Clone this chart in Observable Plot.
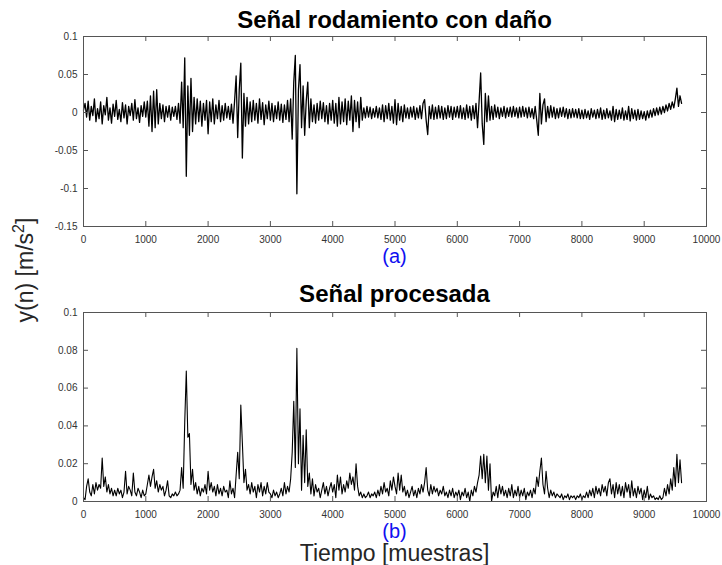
<!DOCTYPE html>
<html>
<head>
<meta charset="utf-8">
<script src="https://cdn.jsdelivr.net/npm/d3@7"></script>
<script src="https://cdn.jsdelivr.net/npm/@observablehq/plot@0.6"></script>
<style>
  html, body { margin: 0; padding: 0; background: #fff; }
  #wrap { position: relative; width: 722px; height: 565px; overflow: hidden; font-family: "Liberation Sans", Arial, sans-serif; }
  .panel { position: absolute; left: 0; }
  .txt { position: absolute; white-space: nowrap; transform: translate(-50%, 0); line-height: 1; }
  .title { font-weight: bold; font-size: 24px; color: #000; }
  .tag { font-size: 20px; color: #1010f0; }
  .axlab { font-size: 23px; color: #262626; line-height: 1; }
</style>
</head>
<body>
<div id="wrap"></div>
<script>
// ---- tick labels ----
const xTicks = [0, 1000, 2000, 3000, 4000, 5000, 6000, 7000, 8000, 9000, 10000];
const yTicksTop = [-0.15, -0.1, -0.05, 0, 0.05, 0.1];
const yTicksBottom = [0, 0.02, 0.04, 0.06, 0.08, 0.1];

// ---- sample spacing of the readings (samples) ----
const sampleStep = 25;

// ---- (a) raw bearing signal, read every 25 samples, in units of 1e-3 m/s^2 ----
const rawSignalMilli = [
  3, 12, -6, 15, -10, 8, -4, 18, -12, 5, -8, 14, -15, 9, -3, 20, -10, 6, -14, 11, -5, 16, -9, 4, -12, 13, -7, 10, -15, 8, -4, 12, -10, 17, -8, 6, -13, 9, -5, 14,
  -6, 15, -18, 22, -25, 28, -20, 30, -15, 12, -8, 10, -12, 8, -6, 9, -10, 7, -5, 8, -9, 12, -14, 40, -20, 72, -84, 35, -30, 45, -25, 20, -15, 18, -12, 15, -18, 12, -10, 16,
  -28, 14, -12, 18, -15, 10, -8, 16, -12, 9, -10, 12, -7, 8, -9, 11, -14, 15, 48, -33, 30, 65, -60, 25, -18, 20, -15, 14, -12, 16, -10, 12, -14, 18, -9, 13, -16, 10, -8, 15,
  -10, 12, -12, 9, -8, 14, -10, 11, -13, 10, -9, 16, -12, 18, -35, 40, 75, -107, 30, 63, -20, 35, -30, 15, 40, -20, 18, -12, 10, -14, 12, -10, 15, -8, 13, -12, 9, -15, 12, -10,
  16, -14, 12, -18, 20, -15, 14, -12, 18, -16, 15, -10, 22, -25, 16, -12, 14, -20, 20, -10, 6, -7, 8, -6, 7, -8, 5, -6, 8, -7, 6, -9, 10, -12, 9, -8, 12, -10, 8, -14,
  17, -16, 12, -10, 8, -12, 10, -7, 6, -8, 7, -6, 8, -9, 6, -7, 9, -8, 12, 17, -10, -29, 8, -8, 10, -9, 7, -8, 9, -7, 8, -9, 6, -8, 9, -6, 8, -9, 7, -6,
  8, -7, 9, -8, 6, -9, 10, -7, 8, -10, 9, -8, 12, -20, 15, 52, -15, -42, 25, -12, 22, -10, 8, -9, 10, -6, 7, -8, 6, -5, 8, -7, 6, -5, 7, -6, 8, -5, 6, -7,
  7, -6, 8, -5, 6, -7, 7, -6, 5, -8, 8, -10, -30, 25, -15, 10, 18, -12, 8, -7, 9, -6, 7, -8, 5, -7, 6, -5, 7, -6, 5, -8, 4, -7, 5, -6, 4, -7, 5, -8,
  3, -8, 4, -7, 2, -9, 5, -6, 3, -8, 4, -7, 6, -9, 3, -8, 5, -7, 2, -10, 8, -12, 4, -9, 3, -8, 6, -10, 2, -9, 8, -11, 5, -8, 3, -10, 4, -9, 2, -8,
  1, -10, 2, -7, 3, -6, 5, -4, 6, -3, 7, -2, 8, 0, 10, 2, 12, 4, 14, 6, 18, 32, 8, 22, 12
];

// ---- (b) processed signal, read every 25 samples, in units of 1e-3 m/s^2 ----
const processedSignalMilli = [
  2, 1, 8, 12, 5, 3, 9, 4, 10, 6, 9, 7, 23, 8, 13, 5, 9, 4, 7, 3, 6, 3, 7, 4, 6, 2, 5, 16, 4, 8, 6, 3, 15, 5, 3, 7, 5, 2, 6, 3,
  4, 9, 14, 8, 13, 17, 7, 11, 5, 9, 6, 8, 3, 6, 11, 3, 2, 4, 3, 5, 3, 4, 6, 18, 7, 42, 69, 34, 36, 9, 17, 6, 10, 4, 8, 3, 7, 5, 9, 4,
  16, 6, 10, 5, 8, 3, 9, 4, 7, 3, 8, 5, 6, 2, 11, 4, 7, 2, 14, 26, 12, 51, 31, 10, 17, 6, 9, 4, 10, 5, 8, 2, 9, 5, 10, 3, 8, 4, 10, 5,
  4, 2, 6, 3, 5, 2, 4, 7, 3, 10, 4, 8, 5, 12, 26, 53, 18, 81, 20, 49, 6, 35, 10, 38, 8, 15, 4, 12, 3, 9, 5, 7, 2, 6, 10, 4, 8, 3, 7, 10,
  5, 9, 2, 14, 6, 13, 4, 9, 5, 11, 7, 15, 9, 13, 6, 20, 8, 3, 5, 2, 4, 2, 3, 5, 2, 4, 3, 5, 2, 6, 3, 8, 4, 10, 5, 7, 3, 11, 6, 13,
  8, 4, 15, 6, 14, 5, 8, 3, 6, 2, 5, 8, 3, 6, 2, 7, 4, 9, 5, 10, 18, 6, 3, 9, 4, 8, 5, 7, 3, 6, 4, 8, 3, 5, 2, 6, 3, 7, 2, 5,
  3, 6, 1, 5, 3, 7, 2, 5, 0, 6, 3, 8, 5, 10, 14, 24, 12, 25, 10, 24, 6, 20, 0, 5, 3, 8, 2, 9, 4, 8, 3, 6, 2, 7, 3, 9, 2, 6, 3, 8,
  2, 6, 3, 7, 1, 5, 3, 6, 2, 7, 4, 13, 8, 16, 23, 9, 4, 16, 7, 2, 6, 3, 5, 2, 4, 3, 2, 4, 1, 3, 2, 4, 1, 3, 2, 3, 1, 3, 2, 4,
  1, 3, 2, 5, 2, 6, 3, 7, 2, 8, 4, 7, 3, 9, 5, 8, 3, 10, 12, 4, 9, 2, 10, 4, 9, 3, 8, 2, 10, 5, 9, 2, 11, 3, 7, 2, 8, 4, 7, 1,
  6, 2, 8, 1, 4, 2, 3, 1, 2, 1, 3, 1, 2, 7, 3, 9, 4, 12, 6, 18, 8, 25, 10, 22, 10
];

const rawData = rawSignalMilli.map((v, i) => ({n: i * sampleStep, v: v / 1000}));
const procData = processedSignalMilli.map((v, i) => ({n: i * sampleStep, v: v / 1000}));

const frameColor = "#555";
const W = 722, ML = 83, MR = 16;
const innerW = W - ML - MR;

function panel(data, yDomain, yTicks, H, MT, MB, sw) {
  const innerH = H - MT - MB;
  return Plot.plot({
    width: W, height: H,
    marginLeft: ML, marginRight: MR, marginTop: MT, marginBottom: MB,
    x: {domain: [0, 10000]},
    y: {domain: yDomain},
    style: {fontFamily: "'Liberation Sans', Arial, sans-serif", fontSize: "10px", color: "#333", background: "transparent", overflow: "visible"},
    marks: [
      Plot.lineY(data, {x: "n", y: "v", stroke: "#000", strokeWidth: sw}),
      Plot.frame({stroke: frameColor, strokeWidth: 1}),
      Plot.tickX(xTicks, {x: d => d, insetTop: innerH - 5, stroke: frameColor}),
      Plot.tickX(xTicks, {x: d => d, insetBottom: innerH - 5, stroke: frameColor}),
      Plot.tickY(yTicks, {y: d => d, insetRight: innerW - 5, stroke: frameColor}),
      Plot.tickY(yTicks, {y: d => d, insetLeft: innerW - 5, stroke: frameColor}),
      Plot.axisX({ticks: xTicks, tickSize: 0, tickPadding: 9, tickFormat: d => String(d), label: null}),
      Plot.axisY({ticks: yTicks, tickSize: 0, tickPadding: 6, tickFormat: d => String(d), label: null})
    ]
  });
}

const wrap = document.getElementById("wrap");

const top1 = panel(rawData, [-0.15, 0.1], yTicksTop, 250, 36, 24, 1.3);
const d1 = document.createElement("div");
d1.className = "panel"; d1.style.top = "0px";
d1.appendChild(top1);
wrap.appendChild(d1);

const bot = panel(procData, [0, 0.1], yTicksBottom, 250, 42, 19, 1.1);
const d2 = document.createElement("div");
d2.className = "panel"; d2.style.top = "270px";
d2.appendChild(bot);
wrap.appendChild(d2);

function addText(text, cls, cx, top) {
  const el = document.createElement("div");
  el.className = "txt " + cls;
  el.style.left = cx + "px";
  el.style.top = top + "px";
  el.innerHTML = text;
  wrap.appendChild(el);
  return el;
}
const cx = ML + innerW / 2;
addText("Señal rodamiento con daño", "title", cx, 8);
addText("Señal procesada", "title", cx, 282);
addText("(a)", "tag", cx, 246);
addText("(b)", "tag", cx, 521);
addText("Tiempo [muestras]", "axlab", cx, 542);
const yl = document.createElement("div");
yl.className = "axlab";
yl.style.cssText = "position:absolute;left:25px;top:270px;white-space:nowrap;transform:translate(-50%,-50%) rotate(-90deg);";
yl.innerHTML = "y(n) [m/s<sup style='font-size:16px;line-height:0'>2</sup>]";
wrap.appendChild(yl);
</script>
</body>
</html>
